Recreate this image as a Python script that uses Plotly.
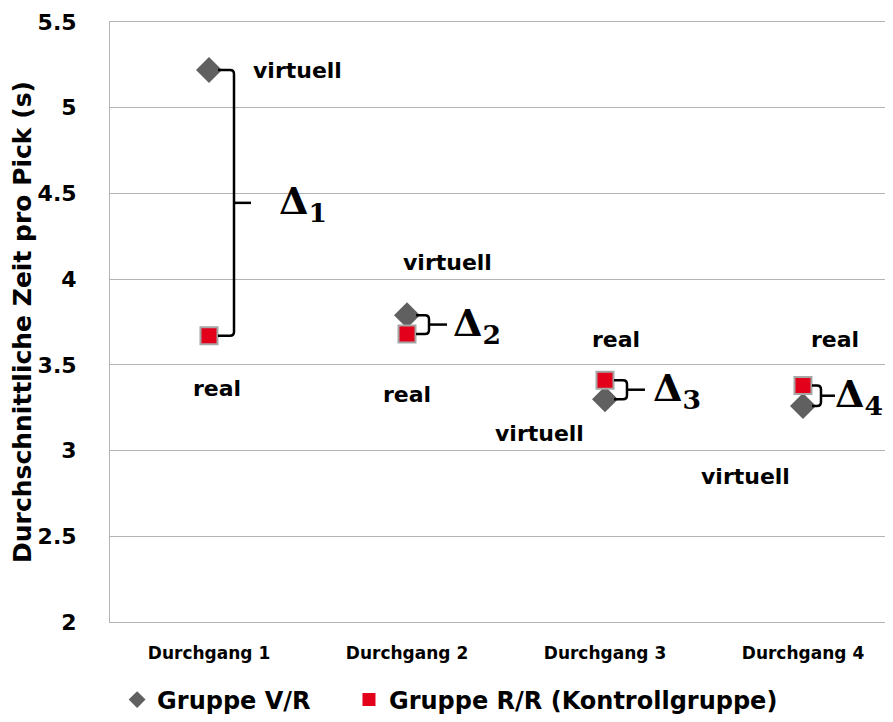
import plotly.graph_objects as go

# --- data ---
durchgaenge = ["Durchgang 1", "Durchgang 2", "Durchgang 3", "Durchgang 4"]
gruppe_vr = [5.22, 3.79, 3.30, 3.26]   # virtuell / real
gruppe_rr = [3.67, 3.68, 3.41, 3.38]   # Kontrollgruppe
delta_labels = ["Δ<sub>1</sub>", "Δ<sub>2</sub>", "Δ<sub>3</sub>", "Δ<sub>4</sub>"]

# label placement (pixel offsets from the category centre, y in data units)
virt_pos = [(88, 5.22), (40, 4.10), (-65, 3.10), (-57, 2.85)]
real_pos = [(8, 3.36), (0, 3.33), (11, 3.65), (32, 3.65)]
bracket_px = [25, 22, 22, 18]      # vertical bar of the bracket
tick_px = [42, 40, 40, 32]         # end of the middle tick
delta_px = [68, 44, 46, 30]        # left edge of the delta label

PX_X = 198.0    # pixels per category
PX_Y = 171.4    # pixels per unit on y

FONT = "DejaVu Sans"
GREY = "#606060"
RED = "#e2001a"
xs = list(range(len(durchgaenge)))

fig = go.Figure()
fig.add_trace(go.Scatter(
    x=xs, y=gruppe_vr, mode="markers", showlegend=False,
    marker=dict(symbol="diamond", size=20, color=GREY, line=dict(width=0))))
fig.add_trace(go.Scatter(
    x=xs, y=gruppe_rr, mode="markers", showlegend=False,
    marker=dict(symbol="square", size=17, color=RED,
                line=dict(color="#a6a6a6", width=2))))

# legend entries only (smaller symbols, like the reference)
fig.add_trace(go.Scatter(
    x=[None], y=[None], mode="markers", name="Gruppe V/R\u00a0\u00a0\u00a0\u00a0",
    marker=dict(symbol="diamond", size=13, color=GREY, line=dict(width=0))))
fig.add_trace(go.Scatter(
    x=[None], y=[None], mode="markers", name="Gruppe R/R (Kontrollgruppe)",
    marker=dict(symbol="square", size=13, color=RED, line=dict(width=0))))

r = 4 / PX_Y  # corner size in y units
for i in xs:
    top = max(gruppe_vr[i], gruppe_rr[i])
    bot = min(gruppe_vr[i], gruppe_rr[i])
    x0 = i + 9 / PX_X
    xb = i + bracket_px[i] / PX_X
    xc = xb - 4 / PX_X
    mid = (top + bot) / 2
    path = (f"M {x0},{top} L {xc},{top} Q {xb},{top} {xb},{top - r} "
            f"L {xb},{bot + r} Q {xb},{bot} {xc},{bot} L {x0},{bot}")
    fig.add_shape(type="path", path=path, xref="x", yref="y",
                  line=dict(color="black", width=2.5))
    fig.add_shape(type="line", xref="x", yref="y",
                  x0=xb, x1=i + tick_px[i] / PX_X, y0=mid, y1=mid,
                  line=dict(color="black", width=2.5))
    fig.add_annotation(x=i + delta_px[i] / PX_X, y=mid, xref="x", yref="y",
                       text=delta_labels[i], showarrow=False, xanchor="left",
                       yanchor="middle",
                       font=dict(family="DejaVu Serif", size=38, color="black",
                                 weight="bold"))
    vx, vy = virt_pos[i]
    fig.add_annotation(x=i + vx / PX_X, y=vy, xref="x", yref="y",
                       text="virtuell", showarrow=False,
                       font=dict(family=FONT, size=22, color="black", weight="bold"))
    rx, ry = real_pos[i]
    fig.add_annotation(x=i + rx / PX_X, y=ry, xref="x", yref="y",
                       text="real", showarrow=False,
                       font=dict(family=FONT, size=22, color="black", weight="bold"))

# the page body adds 8px on the left and top
fig.update_layout(
    width=893, height=722,
    margin=dict(l=102, r=0, t=14, b=108),
    plot_bgcolor="white", paper_bgcolor="white",
    showlegend=True,
    legend=dict(orientation="h", x=0.009, xanchor="left", y=-0.13, yanchor="middle",
                font=dict(family=FONT, size=24, color="black", weight="bold"),
                itemwidth=30, tracegroupgap=0),
    xaxis=dict(range=[-0.5, 3.495], tickmode="array", tickvals=xs, ticktext=durchgaenge,
               showgrid=False, zeroline=False, showline=True, mirror=True,
               linecolor="#b3b3b3", linewidth=1, ticks="", ticklabelstandoff=16,
               tickfont=dict(family=FONT, size=17, color="black", weight="bold")),
    yaxis=dict(range=[2, 5.5], dtick=0.5, tickformat=".1~f",
               showgrid=True, gridcolor="#b3b3b3", gridwidth=1,
               zeroline=False, showline=True, linecolor="#b3b3b3", linewidth=1,
               ticks="", ticklabelstandoff=28,
               tickfont=dict(family=FONT, size=22, color="black", weight="bold"),
               title=dict(text="Durchschnittliche Zeit pro Pick (s)", standoff=6,
                          font=dict(family=FONT, size=25, color="black", weight="bold"))),
)

fig.write_html("out.html")
